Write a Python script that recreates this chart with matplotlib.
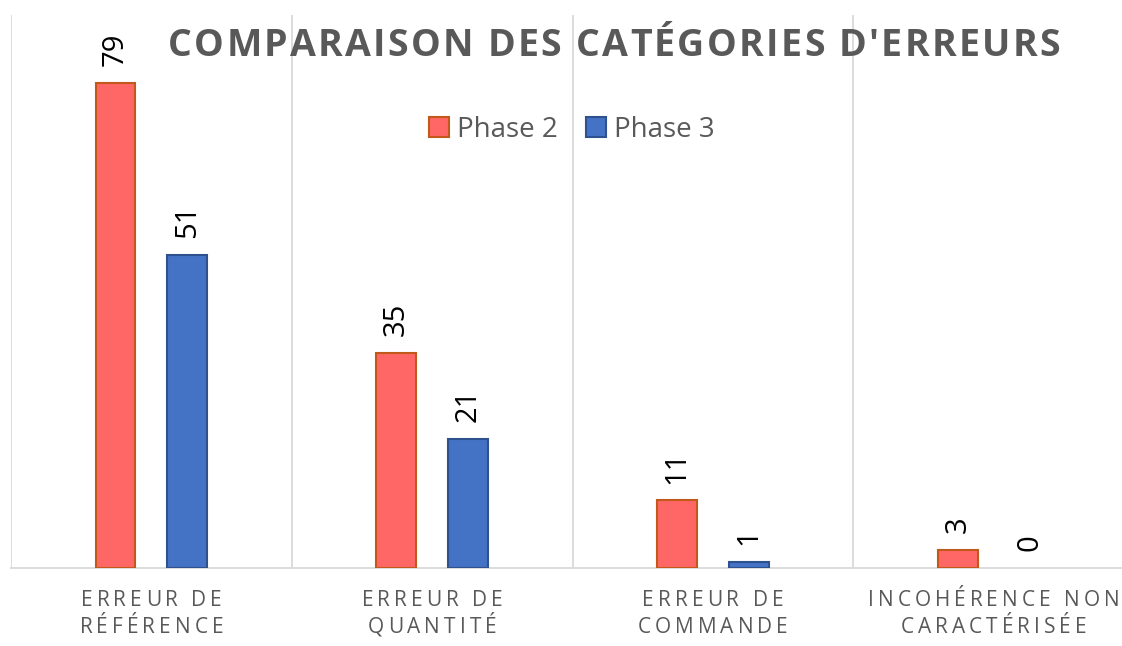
import matplotlib
matplotlib.use("Agg")
import matplotlib.pyplot as plt
from matplotlib.font_manager import FontProperties
from matplotlib.transforms import IdentityTransform
import numpy as np

# Data
categories = ["ERREUR DE\nRÉFÉRENCE", "ERREUR DE\nQUANTITÉ", "ERREUR DE\nCOMMANDE",
              "INCOHÉRENCE NON\nCARACTÉRISÉE"]
series_names = ["Phase 2", "Phase 3"]
phase2 = [79, 35, 11, 3]
phase3 = [51, 21, 1, 0]

title = "COMPARAISON DES CATÉGORIES D'ERREURS"

plt.rcParams['font.family'] = ["Open Sans", "DejaVu Sans"]
GRAY_TXT = "#595959"
GRID = "#D9D9D9"
W, H = 1122, 646

fig = plt.figure(figsize=(W / 100, H / 100), dpi=100)
ax = fig.add_axes([11 / W, 78 / H, 1123 / W, 553 / H])
renderer = fig.canvas.get_renderer()


def char_w(c, prop):
    # advance width of one char, measured between two bars so spaces count
    w1 = renderer.get_text_width_height_descent("|" + c + "|", prop, ismath=False)[0]
    w0 = renderer.get_text_width_height_descent("||", prop, ismath=False)[0]
    return w1 - w0


def spaced_line(s, cx, y, size, gap=None, width=None, weight="normal", color=GRAY_TXT):
    # draw a line of text with letter spacing, centred on cx (pixels from left)
    prop = FontProperties(family="Open Sans", size=size, weight=weight)
    ws = [char_w(c, prop) for c in s]
    if width is not None:
        gap = (width - sum(ws)) / (len(s) - 1)
    total = sum(ws) + gap * (len(s) - 1)
    xx = cx - total / 2
    for c, w in zip(s, ws):
        fig.text(xx, y, c, transform=IdentityTransform(), fontproperties=prop,
                 color=color, ha="left", va="baseline")
        xx += w + gap


x = np.arange(len(categories))
off = 0.128
bw = 0.142
b2 = ax.bar(x - off, phase2, bw, color="#FF6666", edgecolor="#C0591A", linewidth=1.5,
            label=series_names[0], zorder=3)
b3 = ax.bar(x + off, phase3, bw, color="#4472C4", edgecolor="#2F528F", linewidth=1.5,
            label=series_names[1], zorder=3)

for bars, vals in ((b2, phase2), (b3, phase3)):
    for r, v in zip(bars, vals):
        if v == 0:
            r.set_linewidth(0)
        ax.annotate(str(v), (r.get_x() + r.get_width() / 2, v), xytext=(0, 12),
                    textcoords="offset points", rotation=90, ha="center", va="bottom",
                    fontsize=21, color="black")

ax.set_xlim(-0.5, len(categories) - 0.5)
ax.set_ylim(0, 90)

# category separators
for b in np.arange(-0.5, len(categories), 1.0):
    ax.axvline(b, color=GRID, linewidth=1.3, zorder=1)

for s in ("top", "left", "right"):
    ax.spines[s].set_visible(False)
ax.spines["bottom"].set_color(GRID)
ax.spines["bottom"].set_linewidth(1.3)
ax.set_yticks([])
ax.set_xticks([])

# category labels, letter-spaced, two lines each
for i, cat in enumerate(categories):
    cx = ax.transData.transform((x[i], 0))[0]
    for k, line in enumerate(cat.split("\n")):
        spaced_line(line, cx, 40 - 27 * k, 15, gap=4)

# title
spaced_line(title, 614, H - 56, 27, width=892, weight="bold")

fig.legend(handles=[b2, b3], labels=series_names, loc="center",
           bbox_to_anchor=(572 / W, 1 - 130 / H), ncol=2, frameon=False,
           fontsize=20, labelcolor=GRAY_TXT, handlelength=0.72, handleheight=0.72,
           handletextpad=0.3, columnspacing=1.0)

fig.savefig("out.png", dpi=100)
